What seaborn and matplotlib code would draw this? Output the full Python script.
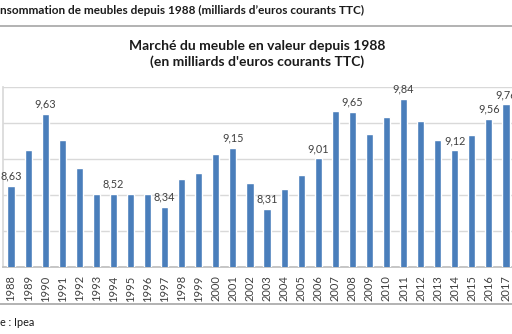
import matplotlib
matplotlib.use("Agg")
import matplotlib.pyplot as plt
from matplotlib.lines import Line2D
import seaborn as sns
import pandas as pd

years = [str(y) for y in range(1988, 2018)]
values = [8.63, 9.13, 9.63, 9.27, 8.88, 8.52, 8.52, 8.52, 8.52, 8.34,
          8.72, 8.81, 9.07, 9.15, 8.67, 8.31, 8.58, 8.78, 9.01, 9.67,
          9.65, 9.35, 9.58, 9.84, 9.53, 9.27, 9.12, 9.34, 9.56, 9.76]
labelled = ["1988", "1990", "1994", "1997", "2001", "2003", "2006", "2008",
            "2011", "2014", "2016", "2017"]
header = "nsommation de meubles depuis 1988 (milliards d\u2019euros courants TTC)"
title = "Marché du meuble en valeur depuis 1988\n(en milliards d'euros courants TTC)"
source = "e : Ipea"

df = pd.DataFrame({"annee": years, "valeur": values})

sns.set_theme(style="white")
plt.rcParams["font.family"] = ["Lato", "DejaVu Sans"]

W, H = 512, 334
fig = plt.figure(figsize=(W / 100, H / 100), dpi=100)
fig.patch.set_facecolor("white")
ax = fig.add_axes([2.5 / W, 67 / H, 512 / W, 180 / H])

sns.barplot(data=df, x="annee", y="valeur", color="#4A7EBB", width=0.42,
            saturation=1, ax=ax, zorder=3)

ax.set_ylim(7.5, 10.0)
ax.set_xlim(-0.5, len(years) - 0.5)
ax.set_yticks([7.5, 8.0, 8.5, 9.0, 9.5, 10.0])
ax.yaxis.grid(True, color="#D9D9D9", linewidth=1.0, zorder=0)
ax.set_yticklabels([])
ax.tick_params(axis="y", length=0)
ax.set_xlabel("")
ax.set_ylabel("")
ax.tick_params(axis="x", which="major", length=0, pad=6, labelsize=8,
               labelcolor="#404040", rotation=90)
ax.set_xticks([i + 0.5 for i in range(len(years))], minor=True)
ax.tick_params(axis="x", which="minor", length=4, color="#BFBFBF", width=0.8,
               direction="out")
for side in ["top", "right"]:
    ax.spines[side].set_visible(False)
ax.spines["bottom"].set_color("#BFBFBF")
ax.spines["left"].set_color("#D9D9D9")

for i, (y, v) in enumerate(zip(years, values)):
    if y in labelled:
        ax.text(i, v + 0.06, f"{v:.2f}".replace(".", ","), ha="center",
                va="bottom", fontsize=7.8, color="#404040", zorder=4)

fig.text(0, 1 - 10 / H, header, ha="left", va="center", fontsize=8.5,
         fontweight="bold", color="#1a1a1a")
fig.text(257 / W, 1 - 54 / H, title, ha="center", va="center", fontsize=10,
         fontweight="bold", color="#1a1a1a", linespacing=1.4)
fig.text(0, 1 - 323 / H, source, ha="left", va="center", fontsize=7.8,
         color="#1a1a1a")

fig.add_artist(Line2D([0, 1], [1 - 26 / H, 1 - 26 / H], color="#A6A6A6",
                      linewidth=1.2, transform=fig.transFigure))
fig.add_artist(Line2D([0, 1], [1 - 304 / H, 1 - 304 / H], color="#A6A6A6",
                      linewidth=1.2, transform=fig.transFigure))

fig.savefig("out.png", dpi=100)
